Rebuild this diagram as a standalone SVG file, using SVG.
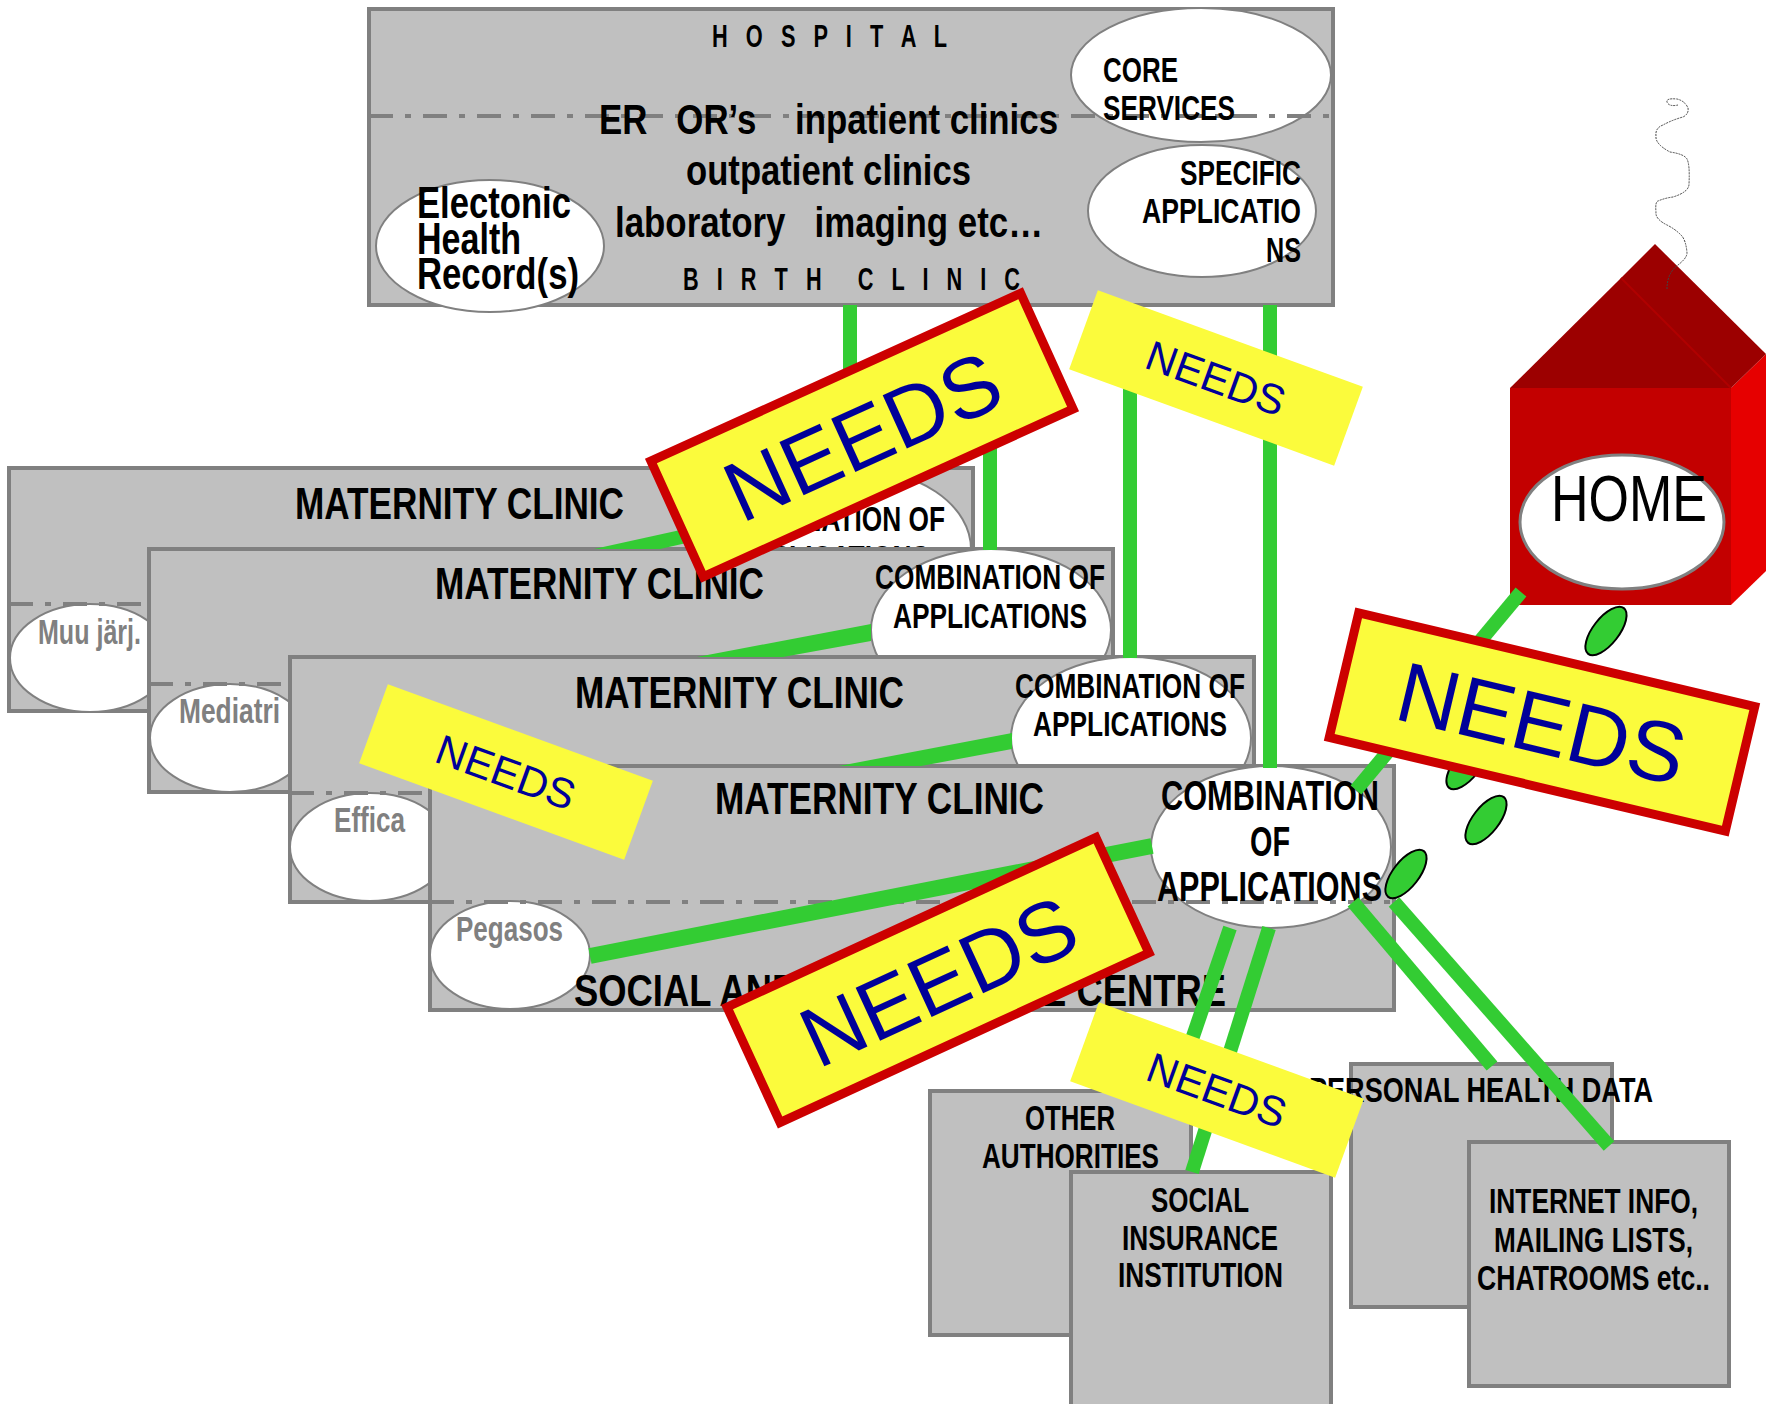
<svg xmlns="http://www.w3.org/2000/svg" width="1772" height="1404" viewBox="0 0 1772 1404">
<style>
text{font-family:"Liberation Sans",Arial,sans-serif;font-weight:bold;fill:#000}
.box{fill:#c0c0c0;stroke:#808080;stroke-width:4}
.el{fill:#fff;stroke:#808080;stroke-width:2}
.dash{stroke:#808080;stroke-width:4;fill:none;stroke-dasharray:24 12 6 12}
.g{fill:#808080}
.conn{stroke:#33cc33;stroke-width:14;fill:none}
.poly{fill:#33cc33}
.drop{fill:#33cc33;stroke:#000;stroke-width:2}
.ban{fill:#fbfb3c}
.red{stroke:#cc0000;stroke-width:9}
.need{font-weight:normal;fill:#000099;text-anchor:middle}
.f45{font-size:45px}.f42{font-size:42px}.f35{font-size:35px}.f32{font-size:32px}
</style>
<g id="hospital">
<rect class="box" x="369" y="9" width="964" height="296"/>
<ellipse class="el" cx="1201" cy="75" rx="130" ry="67"/>
<ellipse class="el" cx="1202" cy="211" rx="114" ry="66"/>
<ellipse class="el" cx="490" cy="246" rx="114" ry="66"/>
<line class="dash" x1="369" y1="116" x2="1333" y2="116"/>
<text class="f32" x="712" y="47" textLength="235" lengthAdjust="spacingAndGlyphs" xml:space="preserve">H   O   S   P   I   T   A   L</text>
<text class="f42" x="599" y="134" textLength="459" lengthAdjust="spacingAndGlyphs" xml:space="preserve">ER   OR’s    inpatient clinics</text>
<text class="f42" x="686" y="185" textLength="285" lengthAdjust="spacingAndGlyphs">outpatient clinics</text>
<text class="f42" x="615" y="237" textLength="428" lengthAdjust="spacingAndGlyphs" xml:space="preserve">laboratory   imaging etc…</text>
<text class="f32" x="683" y="290" textLength="337" lengthAdjust="spacingAndGlyphs" xml:space="preserve">B   I   R   T   H      C   L   I   N   I   C</text>
<text class="f35" x="1103" y="82" textLength="75" lengthAdjust="spacingAndGlyphs">CORE</text>
<text class="f35" x="1103" y="120" textLength="132" lengthAdjust="spacingAndGlyphs">SERVICES</text>
<text class="f35" x="1180" y="185" textLength="121" lengthAdjust="spacingAndGlyphs">SPECIFIC</text>
<text class="f35" x="1142" y="223" textLength="159" lengthAdjust="spacingAndGlyphs">APPLICATIO</text>
<text class="f35" x="1266" y="262" textLength="35" lengthAdjust="spacingAndGlyphs">NS</text>
<text class="f45" x="417" y="218" textLength="154" lengthAdjust="spacingAndGlyphs">Electonic</text>
<text class="f45" x="417" y="254" textLength="104" lengthAdjust="spacingAndGlyphs">Health</text>
<text class="f45" x="417" y="289" textLength="162" lengthAdjust="spacingAndGlyphs">Record(s)</text>
</g>
<g id="maternity-1">
<rect class="box" x="9" y="468" width="964" height="243"/>
<ellipse class="el" cx="851" cy="549" rx="120" ry="81"/>
<ellipse class="el" cx="90" cy="658" rx="80" ry="54"/>
<line class="dash" x1="9" y1="604" x2="973" y2="604"/>
<text class="f45" x="295" y="519" textLength="329" lengthAdjust="spacingAndGlyphs">MATERNITY CLINIC</text>
<text class="f35" x="715" y="531" textLength="230" lengthAdjust="spacingAndGlyphs">COMBINATION OF</text>
<text class="f35" x="735" y="570" textLength="194" lengthAdjust="spacingAndGlyphs">APPLICATIONS</text>
<text class="f35 g" x="38" y="644" textLength="103" lengthAdjust="spacingAndGlyphs">Muu järj.</text>
</g>
<g id="maternity-2">
<rect class="box" x="149" y="549" width="964" height="243"/>
<ellipse class="el" cx="991" cy="630" rx="120" ry="81"/>
<ellipse class="el" cx="230" cy="738" rx="80" ry="54"/>
<line class="dash" x1="149" y1="684" x2="1113" y2="684"/>
<text class="f45" x="435" y="599" textLength="329" lengthAdjust="spacingAndGlyphs">MATERNITY CLINIC</text>
<text class="f35" x="875" y="589" textLength="230" lengthAdjust="spacingAndGlyphs">COMBINATION OF</text>
<text class="f35" x="893" y="628" textLength="194" lengthAdjust="spacingAndGlyphs">APPLICATIONS</text>
<text class="f35 g" x="179" y="723" textLength="101" lengthAdjust="spacingAndGlyphs">Mediatri</text>
</g>
<g id="maternity-3">
<rect class="box" x="290" y="657" width="964" height="245"/>
<ellipse class="el" cx="1131" cy="738" rx="120" ry="81"/>
<ellipse class="el" cx="370" cy="847" rx="80" ry="54"/>
<line class="dash" x1="290" y1="793" x2="1254" y2="793"/>
<text class="f45" x="575" y="708" textLength="329" lengthAdjust="spacingAndGlyphs">MATERNITY CLINIC</text>
<text class="f35" x="1015" y="698" textLength="230" lengthAdjust="spacingAndGlyphs">COMBINATION OF</text>
<text class="f35" x="1033" y="736" textLength="194" lengthAdjust="spacingAndGlyphs">APPLICATIONS</text>
<text class="f35 g" x="334" y="832" textLength="71" lengthAdjust="spacingAndGlyphs">Effica</text>
</g>
<g id="maternity-4">
<rect class="box" x="430" y="766" width="964" height="244"/>
<ellipse class="el" cx="1271" cy="847" rx="120" ry="81"/>
<ellipse class="el" cx="510" cy="955" rx="80" ry="54"/>
<line class="dash" x1="430" y1="902" x2="1394" y2="902"/>
<text class="f45" x="715" y="814" textLength="329" lengthAdjust="spacingAndGlyphs">MATERNITY CLINIC</text>
<text class="f45" x="574" y="1006" textLength="652" lengthAdjust="spacingAndGlyphs">SOCIAL AND HEALTH CARE CENTRE</text>
<text class="f42" x="1161" y="810" textLength="218" lengthAdjust="spacingAndGlyphs">COMBINATION</text>
<text class="f42" x="1250" y="856" textLength="40" lengthAdjust="spacingAndGlyphs">OF</text>
<text class="f42" x="1157" y="901" textLength="225" lengthAdjust="spacingAndGlyphs">APPLICATIONS</text>
<text class="f35 g" x="456" y="941" textLength="107" lengthAdjust="spacingAndGlyphs">Pegasos</text>
</g>
<g id="other-authorities">
<rect class="box" x="930" y="1091" width="261" height="244"/>
<text class="f35" x="1025" y="1130" textLength="90" lengthAdjust="spacingAndGlyphs">OTHER</text>
<text class="f35" x="982" y="1168" textLength="177" lengthAdjust="spacingAndGlyphs">AUTHORITIES</text>
</g>
<g id="social-insurance">
<rect class="box" x="1071" y="1172" width="260" height="240"/>
<text class="f35" x="1151" y="1212" textLength="98" lengthAdjust="spacingAndGlyphs">SOCIAL</text>
<text class="f35" x="1122" y="1250" textLength="156" lengthAdjust="spacingAndGlyphs">INSURANCE</text>
<text class="f35" x="1118" y="1287" textLength="165" lengthAdjust="spacingAndGlyphs">INSTITUTION</text>
</g>
<g id="personal-health-data">
<rect class="box" x="1351" y="1064" width="261" height="243"/>
<text class="f35" x="1309" y="1102" textLength="344" lengthAdjust="spacingAndGlyphs">PERSONAL HEALTH DATA</text>
</g>
<g id="internet-info">
<rect class="box" x="1469" y="1142" width="260" height="244"/>
<text class="f35" x="1489" y="1213" textLength="209" lengthAdjust="spacingAndGlyphs">INTERNET INFO,</text>
<text class="f35" x="1494" y="1252" textLength="199" lengthAdjust="spacingAndGlyphs">MAILING LISTS,</text>
<text class="f35" x="1477" y="1290" textLength="233" lengthAdjust="spacingAndGlyphs">CHATROOMS etc..</text>
</g>
<g id="home">
<path d="M1510 388H1731V605H1510Z" fill="#c30000"/>
<path d="M1731 388L1766 354V571L1731 605Z" fill="#e60000"/>
<path d="M1621 278L1655 244L1766 354L1731 388Z" fill="#9c0000"/>
<path d="M1510 388L1621 278L1731 388Z" fill="#9c0000"/>
<line x1="1621" y1="278" x2="1731" y2="388" stroke="#b00000" stroke-width="2"/>
<path d="M1667 289Q1667 273 1678 265Q1687 258 1687 253Q1686 240 1681 235Q1675 229 1667 225Q1655 219 1656 212Q1655 202 1658 201Q1665 198 1673 197Q1689 192 1689 184Q1690 165 1687 159Q1684 154 1670 152Q1655 144 1656 136Q1655 128 1663 125Q1672 120 1683 117Q1689 114 1688 108Q1685 101 1677 99Q1666 98 1667 102Q1669 107 1678 105" fill="none" stroke="#444" stroke-width="1" stroke-dasharray="2 1"/>
<ellipse cx="1622" cy="522" rx="102" ry="67" fill="#fff" stroke="#808080" stroke-width="3"/>
<text x="1551" y="521" font-size="64" style="font-weight:normal" textLength="156" lengthAdjust="spacingAndGlyphs">HOME</text>
</g>
<g id="drops">
<ellipse class="drop" cx="1606" cy="631" rx="29" ry="13" transform="rotate(-52 1606 631)"/>
<ellipse class="drop" cx="1467" cy="765" rx="29" ry="13" transform="rotate(-52 1467 765)"/>
<ellipse class="drop" cx="1486" cy="820" rx="29" ry="13" transform="rotate(-52 1486 820)"/>
<ellipse class="drop" cx="1406" cy="874" rx="29" ry="13" transform="rotate(-52 1406 874)"/>
</g>
<g id="connectors">
<line class="conn" x1="850" y1="305" x2="850" y2="480"/>
<line class="conn" x1="990" y1="305" x2="990" y2="550"/>
<line class="conn" x1="1130" y1="305" x2="1130" y2="658"/>
<line class="conn" x1="1270" y1="305" x2="1270" y2="768"/>
<polygon class="poly" points="594,549 660,549 735,532 735,518"/>
<polygon class="poly" points="697,657 783,657 871,641 871,624"/>
<polygon class="poly" points="839,766 921,766 1012,749 1012,733"/>
<line class="conn" style="stroke-width:16" x1="590" y1="956" x2="1152" y2="846"/>
<line class="conn" x1="1230" y1="928" x2="1174" y2="1092"/>
<line class="conn" x1="1269" y1="928" x2="1192" y2="1172"/>
<line class="conn" x1="1353" y1="902" x2="1492" y2="1066"/>
<line class="conn" x1="1394" y1="902" x2="1609" y2="1146"/>
<line class="conn" x1="1356" y1="790" x2="1521" y2="592"/>
</g>
<g id="needs-banners">
<g transform="rotate(-24.4 862 435)"><rect class="ban red" x="659" y="371.500" width="406" height="127"/><text class="need" x="862" y="466" font-size="85">NEEDS</text></g>
<g transform="rotate(-24.7 938 980)"><rect class="ban red" x="735" y="916.500" width="406" height="127"/><text class="need" x="938" y="1011" font-size="85">NEEDS</text></g>
<g transform="rotate(13.3 1542 722)"><rect class="ban red" x="1338.500" y="658" width="407" height="128"/><text class="need" x="1542" y="753" font-size="85">NEEDS</text></g>
<g transform="rotate(20 1216 378)"><rect class="ban" x="1075" y="336" width="282" height="84"/><text class="need" x="1216" y="393" font-size="42">NEEDS</text></g>
<g transform="rotate(20 506 772)"><rect class="ban" x="365" y="730" width="282" height="84"/><text class="need" x="506" y="787" font-size="42">NEEDS</text></g>
<g transform="rotate(20 1217 1090)"><rect class="ban" x="1076" y="1048" width="282" height="84"/><text class="need" x="1217" y="1105" font-size="42">NEEDS</text></g>
</g>
</svg>
